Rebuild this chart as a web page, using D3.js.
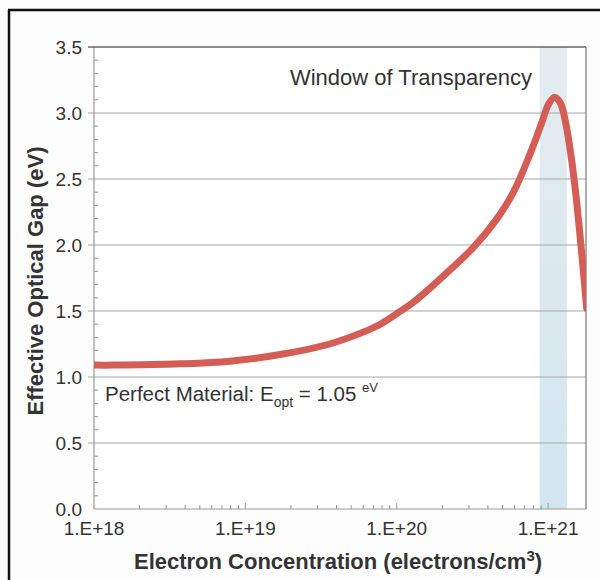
<!DOCTYPE html>
<html><head><meta charset="utf-8">
<script src="https://cdn.jsdelivr.net/npm/d3@7"></script>
<style>
html,body{margin:0;padding:0;background:#fdfdfd;}
text{font-family:"Liberation Sans",Arial,sans-serif;}
</style></head>
<body><div id="chart"></div>
<script>
// Data
const concentration = [1.0e18, 1.35e18, 3.7e18, 7.9e18, 1.7e19, 3.6e19, 6.0e19, 7.8e19, 1.0e20, 1.3e20, 2.1e20, 3.2e20, 4.6e20, 5.9e20, 7.6e20, 9.1e20, 1.0e21, 1.1e21, 1.2e21, 1.3e21, 1.42e21, 1.54e21, 1.66e21, 1.8e21];
const opticalGap    = [1.09,   1.09,   1.10,   1.12,   1.17,   1.25,   1.34,   1.40,   1.48,   1.57,   1.78,   1.98,   2.20,   2.40,   2.69,   2.93,   3.06,   3.12,   3.08,   2.94,   2.67,   2.34,   1.96,   1.52];
const yTicks = [0.0, 0.5, 1.0, 1.5, 2.0, 2.5, 3.0, 3.5];
const xTicks = [1e18, 1e19, 1e20, 1e21];
const xTickLabels = ["1.E+18", "1.E+19", "1.E+20", "1.E+21"];
const windowRange = [8.8e20, 1.33e21];

const W = 600, H = 580;
const svg = d3.select("#chart").append("svg").attr("width", W).attr("height", H);

// outer frame
svg.append("rect").attr("x",0).attr("y",0).attr("width",W).attr("height",H).attr("fill","#fdfdfd");
svg.append("line").attr("x1",9).attr("x2",9).attr("y1",10).attr("y2",H).attr("stroke","#111").attr("stroke-width",2.5);
svg.append("line").attr("x1",8).attr("x2",W).attr("y1",10).attr("y2",10).attr("stroke","#111").attr("stroke-width",2.5);

const x = d3.scaleLog().domain([1e18, 1.78e21]).range([94, 586]);
const y = d3.scaleLinear().domain([0, 3.5]).range([509, 47]);

// plot background
svg.append("rect").attr("x",x.range()[0]).attr("y",y(3.5)).attr("width",x.range()[1]-x.range()[0]).attr("height",y(0)-y(3.5)).attr("fill","#fff");

// window band
const defs = svg.append("defs");
const grad = defs.append("linearGradient").attr("id","bandGrad").attr("x1",0).attr("x2",0).attr("y1",0).attr("y2",1);
grad.append("stop").attr("offset","0%").attr("stop-color","#e4ecf0");
grad.append("stop").attr("offset","100%").attr("stop-color","#d2e6ef");
svg.append("rect").attr("x",x(windowRange[0])).attr("y",y(3.5)).attr("width",x(windowRange[1])-x(windowRange[0])).attr("height",y(0)-y(3.5)).attr("fill","url(#bandGrad)");

// gridlines
svg.append("g").selectAll("line").data(yTicks.filter(d=>d>0 && d<3.5)).join("line")
  .attr("x1",x.range()[0]-6).attr("x2",x.range()[1]).attr("y1",d=>y(d)).attr("y2",d=>y(d))
  .attr("stroke","#a8a8a8").attr("stroke-width",1.2);

// minor y ticks
const yMinor = d3.range(0, 35).map(i=>i/10).filter(v=>Math.round(v*10)%5!==0);
svg.append("g").selectAll("line").data(yMinor).join("line")
  .attr("x1",x.range()[0]).attr("x2",x.range()[0]+4).attr("y1",d=>y(d)).attr("y2",d=>y(d))
  .attr("stroke","#999").attr("stroke-width",1);

// minor x ticks
const xMinor = [];
[1e18,1e19,1e20,1e21].forEach(b=>{for(let k=2;k<=9;k++){const v=b*k; if(v<=x.domain()[1]) xMinor.push(v);}});
svg.append("g").selectAll("line").data(xMinor).join("line")
  .attr("x1",d=>x(d)).attr("x2",d=>x(d)).attr("y1",y(0)).attr("y2",y(0)-4)
  .attr("stroke","#999").attr("stroke-width",1);
svg.append("g").selectAll("line").data(xTicks.slice(1)).join("line")
  .attr("x1",d=>x(d)).attr("x2",d=>x(d)).attr("y1",y(0)).attr("y2",y(0)-6)
  .attr("stroke","#999").attr("stroke-width",1);

// frame
svg.append("line").attr("x1",x.range()[0]).attr("x2",x.range()[0]).attr("y1",y(3.5)).attr("y2",y(0)).attr("stroke","#999").attr("stroke-width",1.2);
svg.append("line").attr("x1",x.range()[0]).attr("x2",x.range()[1]).attr("y1",y(0)).attr("y2",y(0)).attr("stroke","#999").attr("stroke-width",1.2);
svg.append("line").attr("x1",x.range()[1]).attr("x2",x.range()[1]).attr("y1",y(3.5)).attr("y2",y(0)).attr("stroke","#777").attr("stroke-width",1.2);
svg.append("line").attr("x1",x.range()[0]-6).attr("x2",x.range()[1]).attr("y1",y(3.5)).attr("y2",y(3.5)).attr("stroke","#666").attr("stroke-width",1.5);

// curve
defs.append("clipPath").attr("id","clip").append("rect")
  .attr("x",x.range()[0]).attr("y",y(3.5)).attr("width",x.range()[1]-x.range()[0]).attr("height",y(0)-y(3.5));
const pts = concentration.map((c,i)=>[c, opticalGap[i]]);
const line = d3.line().x(d=>x(d[0])).y(d=>y(d[1])).curve(d3.curveCatmullRom.alpha(0.5));
svg.append("path").datum(pts).attr("clip-path","url(#clip)")
  .attr("d",line).attr("fill","none").attr("stroke","#d45d56").attr("stroke-width",7).attr("stroke-linecap","round");

// y tick labels
svg.append("g").selectAll("text").data(yTicks).join("text")
  .attr("x",82).attr("y",d=>y(d)+6.5).attr("text-anchor","end")
  .attr("font-size",19).attr("fill","#333").text(d=>d.toFixed(1));

// x tick labels
svg.append("g").selectAll("text").data(xTicks).join("text")
  .attr("x",d=>x(d)).attr("y",535).attr("text-anchor","middle")
  .attr("font-size",19).attr("fill","#333").text((d,i)=>xTickLabels[i]);

// axis titles
svg.append("text").attr("transform","translate(43,281) rotate(-90)").attr("text-anchor","middle")
  .attr("font-size",22).attr("font-weight","bold").attr("fill","#333").text("Effective Optical Gap (eV)");
const xt = svg.append("text").attr("x",338).attr("y",569).attr("text-anchor","middle")
  .attr("font-size",22).attr("font-weight","bold").attr("fill","#333");
xt.append("tspan").text("Electron Concentration (electrons/cm");
xt.append("tspan").attr("dy",-8).attr("font-size",15).text("3");
xt.append("tspan").attr("dy",8).text(")");

// annotations
svg.append("text").attr("x",532).attr("y",85).attr("text-anchor","end")
  .attr("font-size",22).attr("fill","#333").text("Window of Transparency");
const pm = svg.append("text").attr("x",105).attr("y",401).attr("font-size",20.5).attr("fill","#333");
pm.append("tspan").text("Perfect Material: E");
pm.append("tspan").attr("dy",6).attr("font-size",14).text("opt");
pm.append("tspan").attr("dy",-6).text(" = 1.05 ");
pm.append("tspan").attr("dy",-9).attr("font-size",13).text("eV");
</script></body></html>
